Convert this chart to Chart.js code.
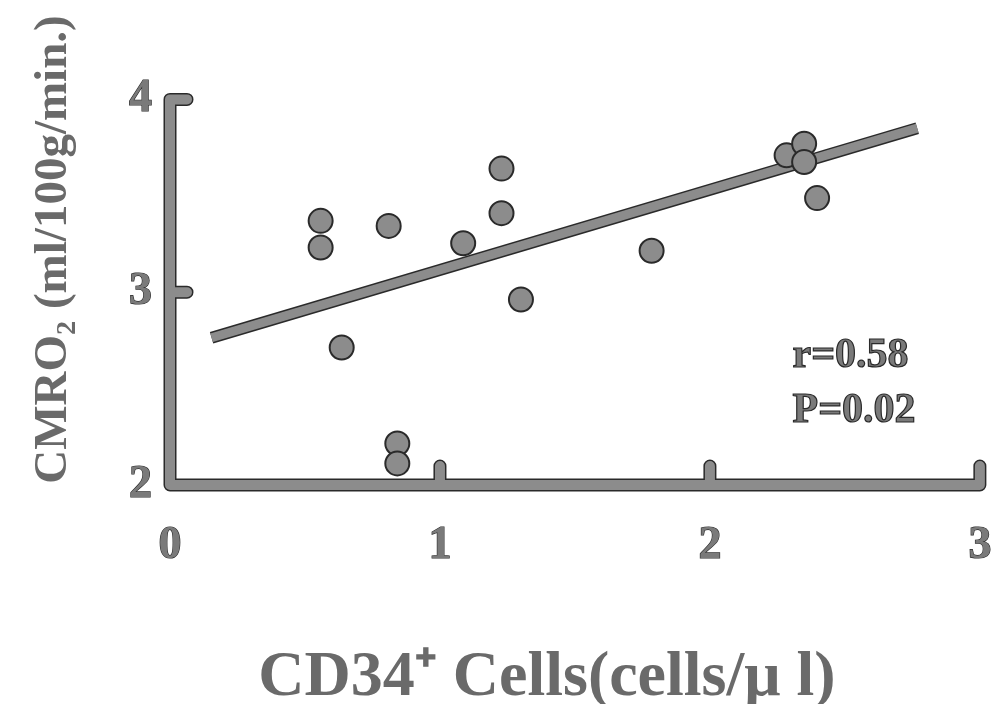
<!DOCTYPE html>
<html><head><meta charset="utf-8">
<script src="https://cdn.jsdelivr.net/npm/chart.js@4.4.1/dist/chart.umd.min.js"></script>
<style>html,body{margin:0;padding:0;background:#fff;} #wrap{width:1000px;height:704px;position:relative;}</style>
</head><body><div id="wrap"><canvas id="c"></canvas></div>
<script>
// Data
const cd34Cells = [0.558, 0.558, 0.810, 0.636, 1.086, 1.228, 1.228, 1.300, 1.784, 2.284, 2.349, 2.349, 2.397, 0.842, 0.842];
const cmro2     = [3.370, 3.232, 3.344, 2.713, 3.254, 3.641, 3.410, 2.962, 3.215, 3.710, 3.770, 3.675, 3.488, 2.215, 2.112];
const fitX = [0.154, 2.768];
const fitY = [2.764, 3.851];
const xTickValues = [0, 1, 2, 3];
const yTickValues = [2, 3, 4];
const xTitle = 'CD34\u207A Cells(cells/\u03BC l)';
const yTitle = 'CMRO\u2082 (ml/100g/min.)';
const statsLines = ['r=0.58', 'P=0.02'];

const GRAY = '#8c8c8c';
const DARK = '#2a2a2a';
const FONT = '"Liberation Serif", "Times New Roman", serif';

const points = cd34Cells.map((v, i) => ({ x: v, y: cmro2[i] }));
const fitPts = fitX.map((v, i) => ({ x: v, y: fitY[i] }));

const axisPlugin = {
  id: 'thickAxes',
  beforeDatasetsDraw(chart) {
    const ctx = chart.ctx, xs = chart.scales.x, ys = chart.scales.y;
    const x0 = xs.getPixelForValue(xTickValues[0]);
    const xEnd = xs.getPixelForValue(xTickValues[xTickValues.length - 1]);
    const yb = ys.getPixelForValue(yTickValues[0]);
    const yt = ys.getPixelForValue(yTickValues[yTickValues.length - 1]);
    const yTick = 17, xTick = 19;
    const path = () => {
      ctx.beginPath();
      ctx.moveTo(x0 + yTick, yt); ctx.lineTo(x0, yt); ctx.lineTo(x0, yb);
      ctx.lineTo(xEnd, yb); ctx.lineTo(xEnd, yb - xTick);
      yTickValues.slice(1, -1).forEach(v => { const y = ys.getPixelForValue(v); ctx.moveTo(x0, y); ctx.lineTo(x0 + yTick, y); });
      xTickValues.slice(1, -1).forEach(v => { const x = xs.getPixelForValue(v); ctx.moveTo(x, yb); ctx.lineTo(x, yb - xTick); });
    };
    ctx.save();
    ctx.lineCap = 'round'; ctx.lineJoin = 'round';
    path(); ctx.strokeStyle = DARK; ctx.lineWidth = 13; ctx.stroke();
    path(); ctx.strokeStyle = GRAY; ctx.lineWidth = 10; ctx.stroke();
    ctx.restore();
  },
  afterDraw(chart, args, opts) {
    const ctx = chart.ctx, xs = chart.scales.x, ys = chart.scales.y;
    ctx.save();
    ctx.font = 'bold 42px ' + FONT;
    ctx.textAlign = 'left'; ctx.textBaseline = 'alphabetic';
    ctx.lineWidth = 1.2; ctx.strokeStyle = DARK; ctx.fillStyle = '#7a7a7a';
    statsLines.forEach((t, i) => {
      const px = xs.getPixelForValue(opts.x), py = ys.getPixelForValue(opts.y[i]);
      ctx.fillText(t, px, py); ctx.strokeText(t, px, py);
    });
    ctx.restore();
  }
};

new Chart(document.getElementById('c'), {
  type: 'scatter',
  data: {
    datasets: [
      { label: 'CMRO2', data: points, order: 0, pointRadius: 12, pointBorderWidth: 2,
        pointBackgroundColor: GRAY, pointBorderColor: DARK, showLine: false },
      { label: 'fit', data: fitPts, order: 1, showLine: true, borderColor: GRAY, borderWidth: 9,
        pointRadius: 0, borderCapStyle: 'butt' },
      { label: 'fitOutline', data: fitPts, order: 2, showLine: true, borderColor: DARK, borderWidth: 12,
        pointRadius: 0, borderCapStyle: 'butt' }
    ]
  },
  plugins: [axisPlugin],
  options: {
    responsive: true, maintainAspectRatio: false, animation: false, events: [],
    layout: { padding: { top: 0, right: 76, bottom: 0, left: 0 } },
    plugins: {
      legend: { display: false }, tooltip: { enabled: false },
      thickAxes: { x: 2.306, y: [2.61, 2.326] }
    },
    scales: {
      x: {
        type: 'linear', position: 'bottom', min: 0, max: 2.793,
        grid: { display: false }, border: { display: false },
        afterBuildTicks: s => { s.ticks = xTickValues.map(v => ({ value: v })); },
        afterFit: s => { s.height = 219; s.paddingLeft = 0; s.paddingRight = 0; },
        ticks: { padding: 26, color: '#7a7a7a', textStrokeColor: DARK, textStrokeWidth: 1.2,
          font: { family: FONT, size: 46, weight: 'bold' } },
        title: { display: true, text: xTitle, color: '#6a6a6a', padding: { top: 0, bottom: 0 },
          font: { family: FONT, size: 64, weight: 'bold', lineHeight: 0.8 } }
      },
      y: {
        type: 'linear', position: 'left', min: 2, max: 4.443,
        grid: { display: false }, border: { display: false },
        afterBuildTicks: s => { s.ticks = yTickValues.map(v => ({ value: v })); },
        afterFit: s => { s.width = 170; s.paddingTop = 0; s.paddingBottom = 0; },
        ticks: { padding: 10, color: '#7a7a7a', textStrokeColor: DARK, textStrokeWidth: 1.2,
          font: { family: FONT, size: 46, weight: 'bold' } },
        title: { display: true, text: yTitle, color: '#6a6a6a', padding: { top: 26, bottom: 0 },
          font: { family: FONT, size: 47, weight: 'bold' } }
      }
    }
  }
});
</script></body></html>
